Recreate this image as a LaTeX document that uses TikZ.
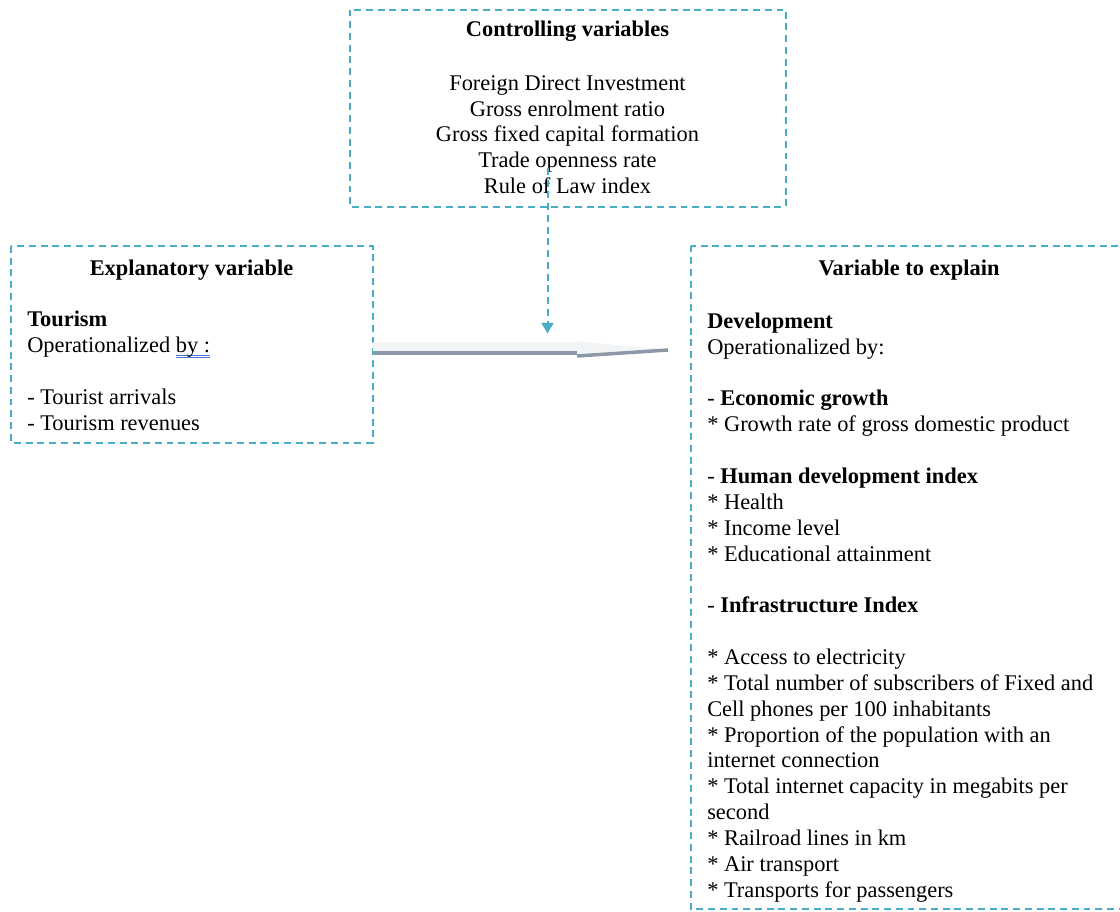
\documentclass[tikz,border=0pt]{standalone}
\usepackage{fontspec}
\setmainfont{Liberation Serif}
\usepackage{xcolor}
\definecolor{boxteal}{HTML}{4BACC6}
\definecolor{arrowlight}{HTML}{F3F4F6}
\definecolor{arrowdark}{HTML}{8C97A8}
\definecolor{spellblue}{HTML}{4A72DA}
\usetikzlibrary{arrows.meta, positioning, calc}
% blue double underline of the spell checker
\newcommand{\spellmark}[1]{\setbox0\hbox{#1}%
  \rlap{\color{spellblue}\raisebox{-2.2pt}{\rule{\wd0}{0.6pt}}}%
  \rlap{\color{spellblue}\raisebox{-3.8pt}{\rule{\wd0}{0.6pt}}}#1}

\begin{document}
\begin{tikzpicture}[x=0.75pt, y=-0.75pt,
    varbox/.style={draw=boxteal, line width=1.5pt,
                   dash pattern=on 5.2pt off 3.6pt},
    boxtitle/.style={font=\fontsize{16.8}{19.4}\selectfont\bfseries,
                     anchor=base, inner sep=0pt},
    boxtext/.style={font=\fontsize{16.8}{19.4}\selectfont,
                    anchor=base west, align=left, inner sep=0pt},
    ctrltext/.style={font=\fontsize{16.8}{19.25}\selectfont,
                     anchor=base, align=center, inner sep=0pt}
  ]
  \useasboundingbox (0,0) rectangle (1120,911);
  % Controlling variables box
  \draw[varbox] (349.5,9.5) rectangle (786,206.5);
  \node[boxtitle] (ctrltitle) at (567.5,36.7) {Controlling variables};
  % (base = last line)
  \node[ctrltext] (ctrllist) at (567.5,193.3)
    {Foreign Direct Investment\\Gross enrolment ratio\\
     Gross fixed capital formation\\Trade openness rate\\Rule of Law index};
  % Explanatory variable box
  \draw[varbox] (11,246) rectangle (372.5,442.5);
  \node[boxtitle] (expltitle) at (191.5,275) {Explanatory variable};
  \node[boxtext] (expltext) at (27,430)
    {\textbf{Tourism}\\Operationalized \spellmark{by :}\\[19.4pt]
     - Tourist arrivals\\- Tourism revenues};
  % Variable to explain box
  \draw[varbox] (691,245.5) rectangle (1127,909);
  \node[boxtitle] (exptitle) at (909,275) {Variable to explain};
  \node[boxtext] (exptext) at (707,897.3)
    {\textbf{Development}\\Operationalized by:\\[19.4pt]
     - \textbf{Economic growth}\\* Growth rate of gross domestic product\\[19.4pt]
     - \textbf{Human development index}\\* Health\\* Income level\\
     * Educational attainment\\[19.4pt]
     - \textbf{Infrastructure Index}\\[19.4pt]
     * Access to electricity\\
     * Total number of subscribers of Fixed and\\
     Cell phones per 100 inhabitants\\
     * Proportion of the population with an\\
     internet connection\\
     * Total internet capacity in megabits per\\
     second\\
     * Railroad lines in km\\
     * Air transport\\
     * Transports for passengers};
  % Link points
  \coordinate (ctrlstart) at (547.5,168);
  \coordinate (ctrltip) at (547.5,333.5);
  \coordinate (explout) at (373,348);
  \coordinate (bigtip) at (668,350);
  % Controlling -> main arrow
  \draw[boxteal, line width=1.5pt, dash pattern=on 5.2pt off 3.6pt,
        -{Triangle[width=9pt, length=8pt]}] (ctrlstart) -- (ctrltip);
  % Main arrow (flat, with a shaded lower edge)
  \fill[arrowlight] ($(explout)+(0,-6)$) -- ++(204,0) -- ++(0,-1)
    -- (bigtip) -- ($(explout)+(204,9)$) -- ++(0,-3) -- ($(explout)+(0,6)$) -- cycle;
  \draw[arrowdark, line width=2.6pt] ($(explout)+(0,5)$) -- ++(204,0);
  \draw[arrowdark, line width=2.6pt] ($(explout)+(204,8)$) -- (bigtip);
\end{tikzpicture}
\end{document}
